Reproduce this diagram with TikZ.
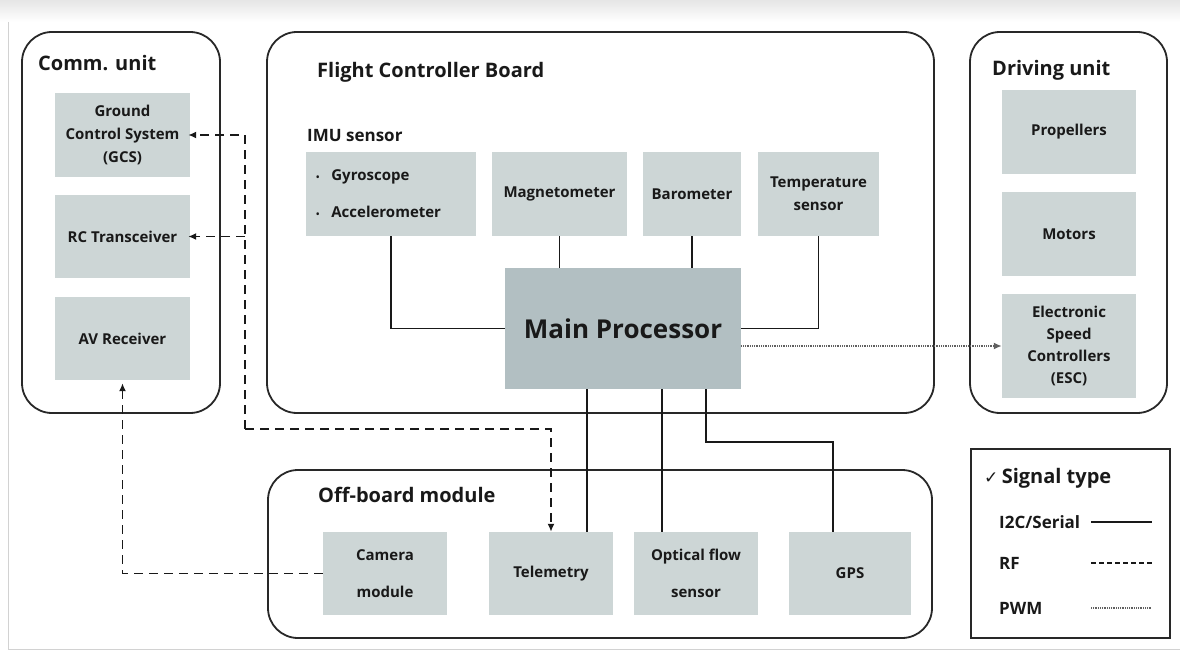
\documentclass[tikz,border=0pt]{standalone}
\usepackage{fontspec}
\setmainfont{Open Sans}
\newfontfamily\symfont{DejaVu Sans}
\usetikzlibrary{arrows.meta}

\definecolor{boxfill}{RGB}{205,214,214}
\definecolor{cpufill}{RGB}{178,191,194}
\definecolor{edge}{RGB}{40,40,40}
\definecolor{ink}{RGB}{25,25,25}

\begin{document}
\begin{tikzpicture}[x=1pt,y=-1pt,
  group/.style={draw=edge, line width=1.8pt, rounded corners=30pt, inner sep=0pt},
  unit/.style={fill=boxfill, inner sep=2pt, align=center, text=ink,
    font=\fontsize{15}{23}\selectfont\bfseries},
  widespaced/.style={font=\fontsize{15}{37}\selectfont\bfseries},
  title/.style={anchor=west, inner sep=0pt, text=ink,
    font=\fontsize{20}{24}\selectfont\bfseries},
  legtext/.style={anchor=west, inner sep=0pt, text=ink,
    font=\fontsize{17}{20}\selectfont\bfseries},
  wire/.style={line width=1.6pt, draw=ink},
  rf/.style={wire, dash pattern=on 9pt off 6pt},
  pwm/.style={line width=1.8pt, draw=gray!75!black, dash pattern=on 1pt off 0.8pt},
  tip/.style={-{Latex[length=8pt,width=7pt]}},
  bul/.style={},
]
\useasboundingbox (0,0) rectangle (1180,652);
\fill[white] (0,0) rectangle (1180,652);
\shade[top color=gray!20, bottom color=white] (0,0) rectangle (1180,22);
\draw[gray!35, line width=1pt] (8,22) -- (8,649) -- (1180,649);

% ---- containers ----
\node[group, minimum width=198pt, minimum height=381pt] (comm) at (121,222.5) {};
\node[group, minimum width=667pt, minimum height=381pt] (fcb) at (600.5,222.5) {};
\node[group, minimum width=197pt, minimum height=381pt] (drive) at (1068.5,222.5) {};
\node[group, minimum width=664pt, minimum height=168pt] (offb) at (600,554) {};

\node[title] (commT) at (38,63) {Comm. unit};
\node[title] (fcbT) at (317,72) {Flight Controller Board};
\node[title, font=\fontsize{17}{20}\selectfont\bfseries] (imuT) at (307,136) {IMU sensor};
\node[title] (driveT) at (992,70) {Driving unit};
\node[title] (offT) at (318,495) {Off-board module};

% ---- communication unit ----
\node[unit, minimum width=135pt, minimum height=84pt] (gcs) at (122.5,135) {Ground\\Control System\\(GCS)};
\node[unit, minimum width=135pt, minimum height=83pt] (rc) at (122.5,236.5) {RC Transceiver};
\node[unit, minimum width=135pt, minimum height=83pt] (av) at (122.5,338.5) {AV Receiver};

% ---- flight controller board ----
\newcommand\imudot{\raisebox{0.5pt}{\scalebox{0.6}{\textbullet}}\hspace{12pt}}
\node[unit, widespaced, minimum width=170pt, minimum height=84pt, align=left, text width=150pt] (imu) at (391,194)
  {\imudot Gyroscope\\\imudot Accelerometer};
\node[unit, minimum width=135pt, minimum height=84pt] (mag) at (559.5,194) {Magnetometer};
\node[unit, minimum width=98pt, minimum height=84pt] (baro) at (692,194) {Barometer};
\node[unit, minimum width=121pt, minimum height=84pt] (temp) at (818.5,194) {Temperature\\sensor};
\node[unit, fill=cpufill, minimum width=236pt, minimum height=121pt,
  font=\fontsize{26}{30}\selectfont\bfseries] (cpu) at (623,328.5) {Main Processor};

% ---- driving unit ----
\node[unit, minimum width=134pt, minimum height=84pt] (prop) at (1069,132) {Propellers};
\node[unit, minimum width=134pt, minimum height=84pt] (motor) at (1069,234) {Motors};
\node[unit, minimum width=134pt, minimum height=104pt, font=\fontsize{15}{22}\selectfont\bfseries] (esc) at (1069,346)
  {Electronic\\Speed\\Controllers\\(ESC)};

% ---- off-board module ----
\node[unit, widespaced, minimum width=124pt, minimum height=83pt] (cam) at (385,573.5) {Camera\\module};
\node[unit, minimum width=124pt, minimum height=83pt] (tel) at (551,573.5) {Telemetry};
\node[unit, widespaced, minimum width=124pt, minimum height=83pt] (opt) at (696,573.5) {Optical flow\\sensor};
\node[unit, minimum width=122pt, minimum height=83pt] (gps) at (850,573.5) {GPS};

% ---- I2C / serial links ----
\draw[wire] (imu.south) |- (cpu.west);
\draw[wire] (mag.south) -- (mag.south |- cpu.north);
\draw[wire] (baro.south) -- (baro.south |- cpu.north);
\draw[wire] (temp.south) |- (cpu.east);
\draw[wire] ([xshift=36pt]tel.north) -- ([xshift=36pt]tel.north |- cpu.south);
\draw[wire] ([xshift=-34pt]opt.north) -- ([xshift=-34pt]opt.north |- cpu.south);
\draw[wire] ([xshift=83pt]cpu.south) -- ++(0,53) -| ([xshift=-17pt]gps.north);

% ---- PWM link ----
\draw[pwm, tip] (cpu.east |- esc.west) -- (esc.west);

% ---- RF links ----
\coordinate (hub) at (245,429);
\draw[rf, tip] (hub) -| (tel.north);
\draw[rf, tip, shorten >=-2pt] (hub) |- (gcs.east);
\draw[rf, tip, shorten >=-2pt] (hub |- rc.east) -- (rc.east);
\draw[rf, tip, shorten >=3pt] (cam.west) -| (av.south);

% ---- legend ----
\node[draw=edge, line width=1.8pt, minimum width=199pt, minimum height=189pt] (legend) at (1070.5,543.5) {};
\node[title] (sigT) at (984,478) {{\symfont\fontsize{17}{17}\selectfont ✓}\,Signal type};
\node[legtext] (l1) at (999,522) {I2C/Serial};
\node[legtext] (l2) at (999,563) {RF};
\node[legtext] (l3) at (999,608) {PWM};
\coordinate (legL) at (1091,0);
\coordinate (legR) at (1152,0);
\draw[wire] (l1 -| legL) -- (l1 -| legR);
\draw[wire, dash pattern=on 5pt off 3pt] (l2 -| legL) -- (l2 -| legR);
\draw[pwm] (l3 -| legL) -- (l3 -| legR);
\end{tikzpicture}
\end{document}
